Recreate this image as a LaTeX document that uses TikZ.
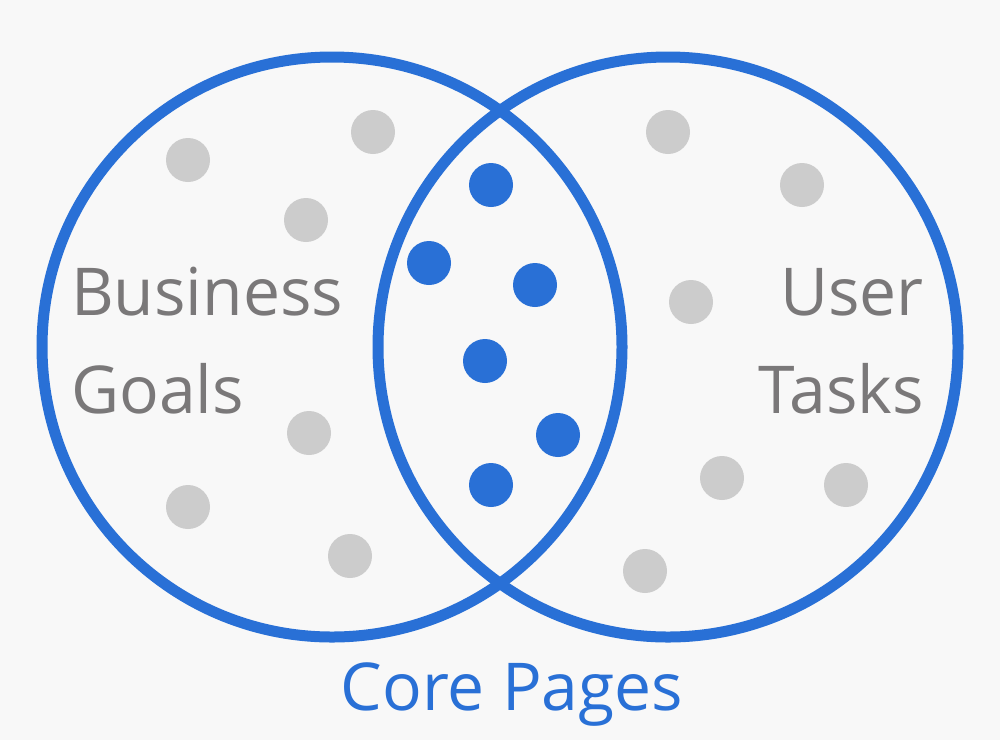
\documentclass[tikz,border=0pt]{standalone}
\usepackage{fontspec}
\setmainfont{Open Sans}
\usepackage{tikz}
\definecolor{venblue}{RGB}{41,112,214}
\definecolor{dotgray}{RGB}{204,204,204}
\definecolor{labgray}{RGB}{122,120,121}
\definecolor{pagebg}{RGB}{248,248,248}
\tikzset{
  ring/.style={draw=venblue,line width=11pt},
  label/.style={inner sep=0pt,text=labgray,font=\fontsize{66}{98}\selectfont},
}

\begin{document}
\begin{tikzpicture}[x=1pt,y=-1pt]

	\fill[pagebg] (0,0) rectangle (1000,740);
	\useasboundingbox (0,0) rectangle (1000,740);

	% pages that belong to one side only
	\foreach \p in {(188,160),(373,132),(306,220),(309,433),(188,507),(350,556),
	                (668,132),(802,185),(691,302),(722,478),(846,485),(645,571)}
		\fill[dotgray] \p circle (22pt);

	% core pages in the overlap
	\foreach \p in {(491,185),(429,263),(535,285),(485,361),(558,435),(491,485)}
		\fill[venblue] \p circle (22pt);

	\draw[ring] (332,347) circle (290pt);
	\draw[ring] (668,347) circle (290pt);

	\node[label,anchor=base west,align=left] (goals) at (71,413) {Business\\Goals};
	\node[label,anchor=base east,align=right] (tasks) at (924,413) {User\\Tasks};

	\node[label,text=venblue,anchor=base] (core) at (512,710) {Core Pages};

\end{tikzpicture}
\end{document}
